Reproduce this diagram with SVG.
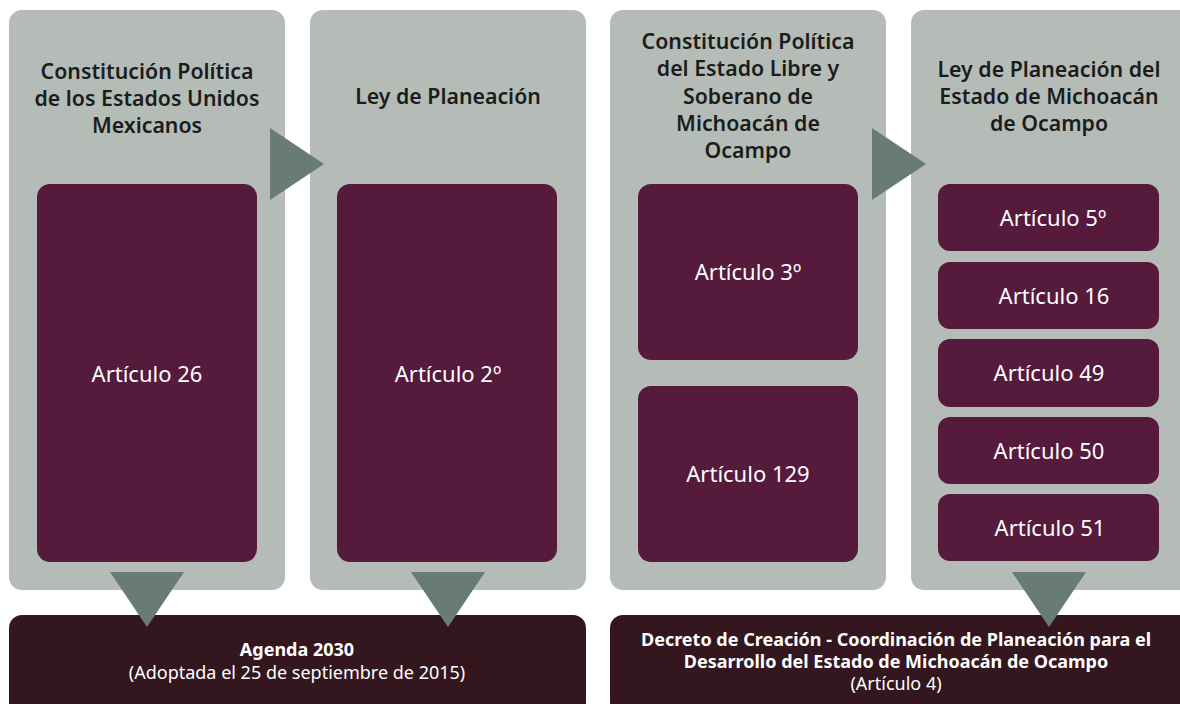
<svg xmlns="http://www.w3.org/2000/svg" width="1180" height="704" viewBox="0 0 1180 704">
<style>
.panel{fill:#b5bcb7}
.box{fill:#561a3c}
.base{fill:#33161e}
.arr{fill:#697b76}
.hd{font-family:"Noto Sans","Open Sans",sans-serif;font-weight:600;font-size:21.3px;fill:#1c1c1c;text-anchor:middle}
.lb{font-family:"Noto Sans","Open Sans",sans-serif;font-weight:400;font-size:22px;fill:#ffffff;text-anchor:middle}
.bt{font-family:"Noto Sans","Open Sans",sans-serif;font-weight:700;font-size:18px;fill:#ffffff;text-anchor:middle}
.bn{font-family:"Noto Sans","Open Sans",sans-serif;font-weight:400;font-size:18px;fill:#ffffff;text-anchor:middle}
</style>
<rect width="1180" height="704" fill="#ffffff"/>
<g id="panel-cpeum">
<rect class="panel" x="9" y="10" width="276" height="580" rx="13"/>
<text class="hd" x="147" y="79">Constitución Política</text>
<text class="hd" x="147" y="106">de los Estados Unidos</text>
<text class="hd" x="147" y="133">Mexicanos</text>
<rect class="box" x="37" y="184" width="220" height="378" rx="13"/>
<text class="lb" x="147" y="382">Artículo 26</text>
</g>
<g id="panel-ley-planeacion">
<rect class="panel" x="310" y="10" width="276" height="580" rx="13"/>
<text class="hd" x="448" y="104">Ley de Planeación</text>
<rect class="box" x="337" y="184" width="220" height="378" rx="13"/>
<text class="lb" x="448" y="382">Artículo 2º</text>
</g>
<g id="panel-cpelsmo">
<rect class="panel" x="610" y="10" width="276" height="580" rx="13"/>
<text class="hd" x="748" y="49">Constitución Política</text>
<text class="hd" x="748" y="76">del Estado Libre y</text>
<text class="hd" x="748" y="104">Soberano de</text>
<text class="hd" x="748" y="131">Michoacán de</text>
<text class="hd" x="748" y="158">Ocampo</text>
<rect class="box" x="638" y="184" width="220" height="176" rx="13"/>
<text class="lb" x="748" y="280">Artículo 3º</text>
<rect class="box" x="638" y="386" width="220" height="176" rx="13"/>
<text class="lb" x="748" y="482">Artículo 129</text>
</g>
<g id="panel-ley-planeacion-michoacan">
<rect class="panel" x="911" y="10" width="282" height="580" rx="13"/>
<text class="hd" x="1049" y="77">Ley de Planeación del</text>
<text class="hd" x="1049" y="104">Estado de Michoacán</text>
<text class="hd" x="1049" y="131">de Ocampo</text>
<rect class="box" x="938" y="184" width="221" height="67" rx="12"/>
<text class="lb" x="1053" y="226">Artículo 5º</text>
<rect class="box" x="938" y="262" width="221" height="67" rx="12"/>
<text class="lb" x="1054" y="304">Artículo 16</text>
<rect class="box" x="938" y="339" width="221" height="68" rx="12"/>
<text class="lb" x="1049" y="381">Artículo 49</text>
<rect class="box" x="938" y="417" width="221" height="67" rx="12"/>
<text class="lb" x="1049" y="459">Artículo 50</text>
<rect class="box" x="938" y="494" width="221" height="67" rx="12"/>
<text class="lb" x="1050" y="536">Artículo 51</text>
</g>
<g id="agenda-2030">
<rect class="base" x="9" y="615" width="577" height="100" rx="13"/>
<text class="bt" x="297" y="656">Agenda 2030</text>
<text class="bn" x="297" y="679">(Adoptada el 25 de septiembre de 2015)</text>
</g>
<g id="decreto">
<rect class="base" x="610" y="615" width="583" height="100" rx="13"/>
<text class="bt" x="896" y="646">Decreto de Creación - Coordinación de Planeación para el</text>
<text class="bt" x="896" y="668">Desarrollo del Estado de Michoacán de Ocampo</text>
<text class="bn" x="896" y="690">(Artículo 4)</text>
</g>
<g id="connectors">
<polygon class="arr" points="270,128 324,164 270,200"/>
<polygon class="arr" points="872,128 926,164 872,200"/>
<polygon class="arr" points="110,572 184,572 147,627"/>
<polygon class="arr" points="411,572 485,572 448,627"/>
<polygon class="arr" points="1012,572 1086,572 1049,627"/>
</g>
</svg>
